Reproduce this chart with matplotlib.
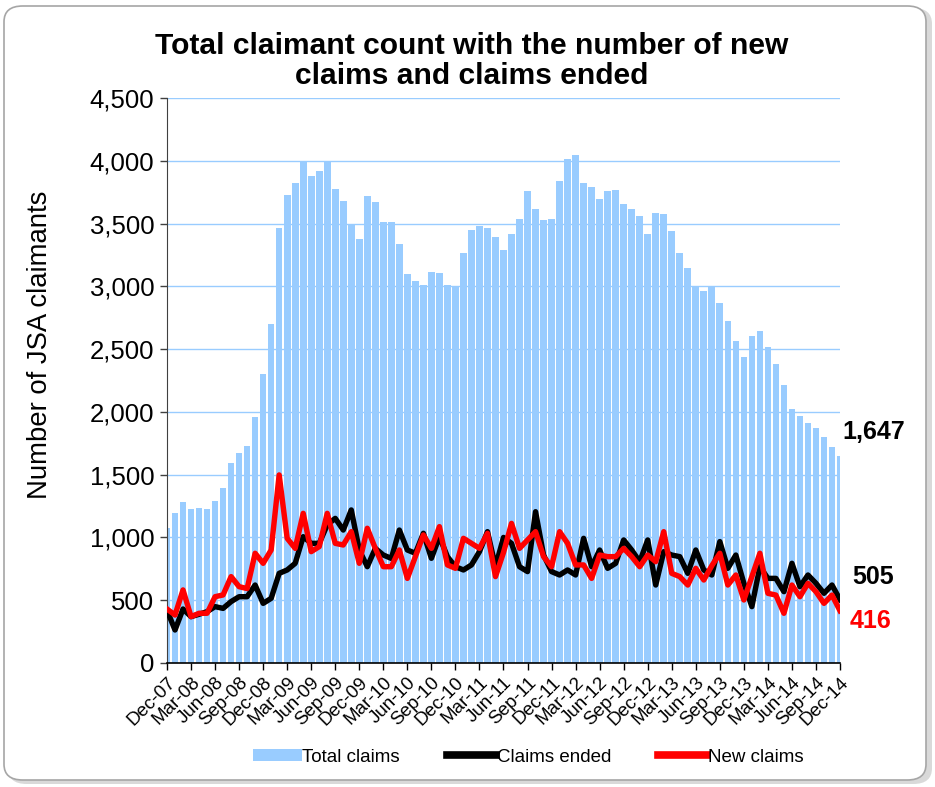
import matplotlib
matplotlib.use("Agg")
import matplotlib.pyplot as plt
from matplotlib.patches import FancyBboxPatch
import numpy as np

plt.rcParams['font.family'] = ['Liberation Sans', 'DejaVu Sans']

_mn = ["Jan", "Feb", "Mar", "Apr", "May", "Jun", "Jul", "Aug", "Sep", "Oct", "Nov", "Dec"]
months = ["Dec-07"] + [f"{_mn[m]}-{y:02d}" for y in range(8, 15) for m in range(12)]

total_claims = [1075, 1197, 1280, 1227, 1237, 1227, 1290, 1391, 1596, 1675,
                1729, 1962, 2299, 2700, 3462, 3728, 3821, 3991, 3882, 3922,
                3991, 3779, 3678, 3500, 3380, 3717, 3670, 3516, 3516, 3340,
                3096, 3043, 3014, 3115, 3104, 3014, 3003, 3269, 3452, 3481,
                3462, 3391, 3290, 3420, 3534, 3757, 3617, 3526, 3534, 3842,
                4012, 4044, 3821, 3789, 3699, 3757, 3768, 3656, 3617, 3563,
                3420, 3587, 3574, 3444, 3269, 3147, 3000, 2963, 3000, 2870,
                2727, 2562, 2440, 2605, 2647, 2515, 2379, 2217, 2023, 1970,
                1909, 1869, 1800, 1718, 1647]

claims_ended = [420, 263, 430, 369, 388, 409, 449, 435, 489, 528,
                528, 621, 475, 515, 714, 741, 794, 1006, 953, 953,
                1100, 1152, 1059, 1219, 900, 767, 913, 860, 833, 1059,
                900, 874, 1033, 834, 1006, 847, 767, 741, 781, 887,
                1046, 767, 1000, 953, 767, 728, 1205, 860, 728, 701,
                741, 701, 993, 767, 900, 754, 794, 980, 900, 807,
                980, 621, 887, 860, 847, 714, 900, 741, 701, 967,
                754, 860, 635, 449, 767, 674, 674, 568, 794, 608,
                701, 635, 555, 621, 505]

new_claims = [430, 382, 582, 369, 396, 396, 528, 542, 688, 608,
              593, 874, 794, 900, 1498, 993, 913, 1192, 887, 927,
              1192, 953, 940, 1046, 794, 1073, 913, 767, 767, 900,
              674, 847, 1020, 913, 1086, 781, 754, 993, 953, 913,
              1033, 688, 880, 1112, 913, 980, 1046, 847, 767, 1046,
              953, 781, 781, 674, 860, 847, 847, 913, 847, 767,
              860, 807, 1046, 714, 688, 621, 754, 661, 775, 874,
              621, 701, 502, 688, 874, 555, 541, 396, 621, 528,
              635, 568, 475, 541, 416]

yticks = [0, 500, 1000, 1500, 2000, 2500, 3000, 3500, 4000, 4500]
ytick_labels = ["0", "500", "1,000", "1,500", "2,000", "2,500", "3,000", "3,500", "4,000", "4,500"]

W, H = 935, 787
fig = plt.figure(figsize=(W / 100, H / 100), dpi=100)

# rounded border with light shadow
shadow = FancyBboxPatch((8 / W, 3 / H), 924 / W, 776 / H, boxstyle="round,pad=0,rounding_size=0.02",
                        transform=fig.transFigure, facecolor="#d9d9d9", edgecolor="none", zorder=-20)
border = FancyBboxPatch((4 / W, 7 / H), 922 / W, 774 / H, boxstyle="round,pad=0,rounding_size=0.02",
                        transform=fig.transFigure, facecolor="white", edgecolor="#a6a6a6", lw=1.2, zorder=-10)
fig.patches.extend([shadow, border])

ax = fig.add_axes([167 / W, 1 - 663 / H, (840 - 167) / W, (663 - 98) / H])
ax.set_facecolor("none")

x = np.arange(len(total_claims))
h_bar = ax.bar(x, total_claims, width=0.83, color="#99CCFF", edgecolor="none", zorder=2, label="Total claims")
h_end, = ax.plot(x, claims_ended, color="black", lw=3.9, zorder=3, label="Claims ended", solid_joinstyle="round")
h_new, = ax.plot(x, new_claims, color="#FF0000", lw=3.9, zorder=4, label="New claims", solid_joinstyle="round")

ax.set_xlim(0, len(total_claims) - 1)
ax.set_ylim(0, 4500)
ax.set_yticks(yticks)
ax.set_yticklabels(ytick_labels, fontsize=18.5)
ax.yaxis.grid(True, color="#99CCFF", lw=1.0, zorder=1)
ax.set_axisbelow(True)

ax.set_xticks(x[::3])
ax.set_xticklabels(months[::3], rotation=45, ha="right", va="top", rotation_mode="anchor", fontsize=13.5)
ax.tick_params(axis="x", length=5, width=1, direction="out", pad=3, color="black")
ax.tick_params(axis="y", length=5, width=1, direction="out", pad=4, color="#404040")

for s in ["top", "right"]:
    ax.spines[s].set_visible(False)
ax.spines["left"].set_color("#404040")
ax.spines["bottom"].set_color("black")
ax.spines["bottom"].set_linewidth(1.2)

fig.text(40 / W, 1 - 345 / H, "Number of JSA claimants", rotation=90, ha="center", va="center", fontsize=19.8)
fig.text(472 / W, 1 - 61 / H, "Total claimant count with the number of new\nclaims and claims ended",
         ha="center", va="center", fontsize=21.6, fontweight="bold", linespacing=1.08)

# value labels to the right of the last points
fig.text(842 / W, 1 - 432 / H, f"{total_claims[-1]:,}", fontsize=18, fontweight="bold", color="black",
         ha="left", va="center")
fig.text(852 / W, 1 - 577 / H, f"{claims_ended[-1]:,}", fontsize=18, fontweight="bold", color="black",
         ha="left", va="center")
fig.text(850 / W, 1 - 621 / H, f"{new_claims[-1]:,}", fontsize=18, fontweight="bold", color="#FF0000",
         ha="left", va="center")

leg = fig.legend([h_bar, h_end, h_new], ["Total claims", "Claims ended", "New claims"],
                 loc="center", bbox_to_anchor=(528 / W, 1 - 757 / H), ncol=3, frameon=False, fontsize=13.5,
                 handlelength=2.6, handletextpad=0.05, columnspacing=2.5, handleheight=0.6)
for line in leg.get_lines():
    line.set_linewidth(5.5)

fig.savefig("out.png", dpi=100)
